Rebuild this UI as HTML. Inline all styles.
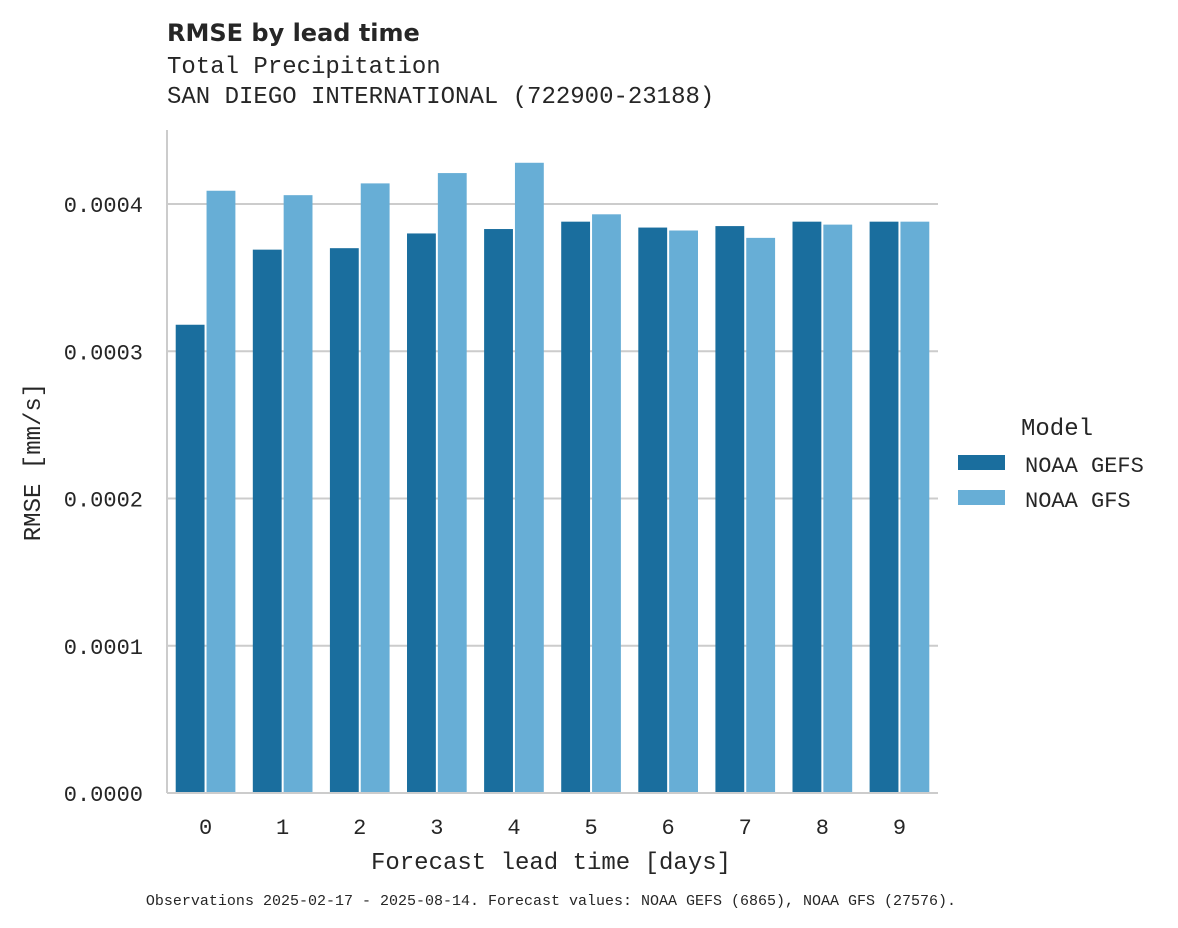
<!DOCTYPE html>
<html><head><meta charset="utf-8"><style>
html,body{margin:0;padding:0;background:#fff;}
svg{display:block;}
.mono{font-family:"Liberation Mono","DejaVu Sans Mono",monospace;fill:#262626;}
</style></head><body>
<svg id="chart" width="1178" height="928" viewBox="0 0 1178 928">
<text x="167" y="41" font-family="DejaVu Sans, sans-serif" font-weight="bold" font-size="24" fill="#262626">RMSE by lead time</text>
<text class="mono" x="167" y="73" font-size="24">Total Precipitation</text>
<text class="mono" x="167" y="103" font-size="24">SAN DIEGO INTERNATIONAL (722900-23188)</text>
<g id="grid"></g>
<g id="bars"></g>
<line x1="167" y1="130" x2="167" y2="793" stroke="#cccccc" stroke-width="2"/>
<line x1="167" y1="793" x2="938" y2="793" stroke="#cccccc" stroke-width="2"/>
<g id="ticks"></g>
<text class="mono" x="551" y="869" font-size="24" text-anchor="middle">Forecast lead time [days]</text>
<text class="mono" transform="translate(40,462) rotate(-90)" font-size="24" text-anchor="middle">RMSE [mm/s]</text>
<g>
<text class="mono" x="1057" y="435" font-size="24" text-anchor="middle">Model</text>
<rect x="958" y="455" width="47" height="15" fill="#1a6e9e"/>
<text class="mono" x="1025" y="472" font-size="22">NOAA GEFS</text>
<rect x="958" y="490" width="47" height="15" fill="#67aed6"/>
<text class="mono" x="1025" y="507" font-size="22">NOAA GFS</text>
</g>
<text class="mono" x="551" y="905" font-size="15" text-anchor="middle">Observations 2025-02-17 - 2025-08-14. Forecast values: NOAA GEFS (6865), NOAA GFS (27576).</text>
</svg>
<script>
const categories = ["0","1","2","3","4","5","6","7","8","9"];
const gefsValues = [0.000318,0.000369,0.000370,0.000380,0.000383,0.000388,0.000384,0.000385,0.000388,0.000388];
const gfsValues = [0.000409,0.000406,0.000414,0.000421,0.000428,0.000393,0.000382,0.000377,0.000386,0.000388];
const yTicks = [0,0.0001,0.0002,0.0003,0.0004];
const yTickLabels = ["0.0000","0.0001","0.0002","0.0003","0.0004"];
const NS="http://www.w3.org/2000/svg";
const y0=793, yTop=130, yMax=(793-130)/1472500;
function yScale(v){return y0-(v/yMax)*(y0-yTop);}
const xL=167, xR=938, band=(xR-xL)/categories.length;
function xCenter(i){return xL+band*(i+0.5);}
const grid=document.getElementById('grid'), bars=document.getElementById('bars'), ticks=document.getElementById('ticks');
yTicks.forEach((t,i)=>{
  const y=yScale(t);
  if(t>0){
    const l=document.createElementNS(NS,'line');
    l.setAttribute('x1',xL);l.setAttribute('x2',xR);l.setAttribute('y1',y);l.setAttribute('y2',y);
    l.setAttribute('stroke','#cccccc');l.setAttribute('stroke-width','2');
    
    
    grid.appendChild(l);
  }
  const tx=document.createElementNS(NS,'text');
  tx.setAttribute('x',143);tx.setAttribute('y',y+8);tx.setAttribute('text-anchor','end');
  tx.setAttribute('class','mono');tx.setAttribute('font-size','22');
  tx.textContent=yTickLabels[i];
  
  
  ticks.appendChild(tx);
});
const bw=band*0.4;
categories.forEach((c,i)=>{
  const cx=xCenter(i);
  [[gefsValues[i],'#1a6e9e',-1,'bar-gefs'],[gfsValues[i],'#67aed6',0,'bar-gfs']].forEach(([v,col,off,nm])=>{
    const r=document.createElementNS(NS,'rect');
    const x=cx+off*bw, y=yScale(v);
    r.setAttribute('x',x+1);r.setAttribute('width',bw-2);
    r.setAttribute('y',y);r.setAttribute('height',y0-y);
    r.setAttribute('fill',col);
    
    
    bars.appendChild(r);
  });
  const tx=document.createElementNS(NS,'text');
  tx.setAttribute('x',cx);tx.setAttribute('y',834);tx.setAttribute('text-anchor','middle');
  tx.setAttribute('class','mono');tx.setAttribute('font-size','22');
  tx.textContent=c;
  
  
  ticks.appendChild(tx);
});
</script>
</body></html>
